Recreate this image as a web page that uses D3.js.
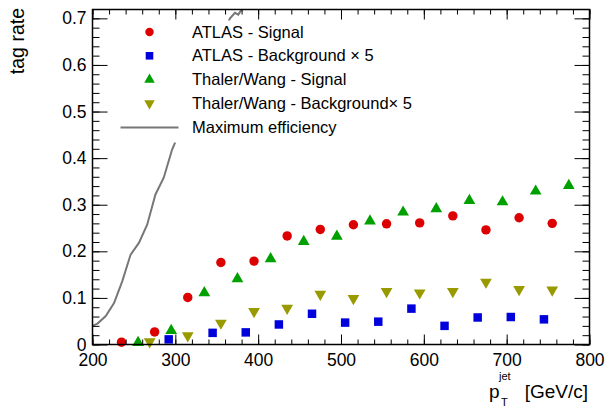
<!DOCTYPE html>
<html>
<head>
<meta charset="utf-8">
<script src="https://cdn.jsdelivr.net/npm/d3@7"></script>
<style>
  body { margin: 0; background: #fff; }
  svg { font-family: "Liberation Sans", Arial, sans-serif; }
</style>
</head>
<body>
<svg id="chart" width="608" height="407"></svg>
<script>
// pT bin positions (GeV/c) and tag rates
const atlasSigX = [235, 275, 315, 355, 395, 435, 475, 515, 555, 595, 635, 675, 715, 755];
const atlasSig = [0.005, 0.027, 0.101, 0.176, 0.179, 0.233, 0.247, 0.257, 0.259, 0.261, 0.276, 0.246, 0.272, 0.260];

const atlasBkgX = [292, 345, 385, 425, 465, 505, 545, 585, 625, 665, 705, 745];
const atlasBkg = [0.011, 0.025, 0.026, 0.043, 0.066, 0.047, 0.049, 0.077, 0.040, 0.058, 0.059, 0.054];

const twSigX = [255, 295, 335, 375, 415, 455, 495, 535, 575, 615, 655, 695, 735, 775];
const twSig = [0.004, 0.030, 0.111, 0.141, 0.184, 0.221, 0.232, 0.265, 0.284, 0.291, 0.309, 0.306, 0.329, 0.341];

const twBkgX = [269, 315, 355, 395, 435, 475, 515, 555, 595, 635, 675, 715, 755];
const twBkg = [0.006, 0.019, 0.046, 0.071, 0.078, 0.108, 0.099, 0.114, 0.111, 0.114, 0.134, 0.118, 0.117];

const maxEffX = [200, 206, 216, 226, 236, 246, 256, 266, 276, 286, 296, 306, 316, 326, 336, 346, 356, 366, 372, 376, 384];
const maxEff = [0.040, 0.045, 0.061, 0.089, 0.136, 0.193, 0.218, 0.257, 0.322, 0.358, 0.418, 0.46, 0.50, 0.54, 0.58, 0.62, 0.66, 0.700, 0.712, 0.708, 0.730];

const legendLabels = ["ATLAS - Signal", "ATLAS - Background \u00d7 5", "Thaler/Wang - Signal", "Thaler/Wang - Background\u00d7 5", "Maximum efficiency"];
const xTicks = [200, 300, 400, 500, 600, 700, 800];
const yTicks = [0, 0.1, 0.2, 0.3, 0.4, 0.5, 0.6, 0.7];

const margin = {left: 92.5, top: 9.5, right: 18.5, bottom: 62.5};
const W = 608, H = 407;
const w = W - margin.left - margin.right;
const h = H - margin.top - margin.bottom;

const svg = d3.select("#chart");
const g = svg.append("g").attr("transform", `translate(${margin.left},${margin.top})`);

const x = d3.scaleLinear().domain([200, 800]).range([0, w]);
const y = d3.scaleLinear().domain([0, 0.719]).range([h, 0]);

g.append("clipPath").attr("id", "clip")
  .append("rect").attr("width", w).attr("height", h);

// max efficiency curve (under the legend box)
g.append("path")
  .datum(maxEffX.map((d, i) => [d, maxEff[i]]))
  .attr("clip-path", "url(#clip)")
  .attr("fill", "none")
  .attr("stroke", "#777")
  .attr("stroke-width", 2)
  .attr("d", d3.line().x(d => x(d[0])).y(d => y(d[1])));

// legend box hides part of the curve
g.append("rect").attr("x", 10).attr("y", 11).attr("width", 330).attr("height", 122).attr("fill", "#fff");

const series = [
  {xs: atlasSigX, ys: atlasSig, sym: d3.symbolCircle, size: 70, color: "#dd0000", rot: 0},
  {xs: atlasBkgX, ys: atlasBkg, sym: d3.symbolSquare, size: 72, color: "#0000dd", rot: 0},
  {xs: twSigX, ys: twSig, sym: d3.symbolTriangle, size: 60, color: "#00a000", rot: 0},
  {xs: twBkgX, ys: twBkg, sym: d3.symbolTriangle, size: 60, color: "#999900", rot: 180}
];

series.forEach(s => {
  g.append("g").selectAll("path")
    .data(s.xs.map((d, i) => [d, s.ys[i]]))
    .join("path")
    .attr("transform", d => `translate(${x(d[0])},${y(d[1])}) rotate(${s.rot})`)
    .attr("d", d3.symbol().type(s.sym).size(s.size))
    .attr("fill", s.color);
});

// axes: ROOT style ticks on all four sides, pointing inside
const xMinor = d3.range(200, 801, 20);
const yMinor = d3.range(0, 0.7201, 0.02);

function noLabels(a) { return a.tickFormat("").tickSizeOuter(0); }

g.append("g").attr("transform", `translate(0,${h})`)
  .call(noLabels(d3.axisBottom(x).tickValues(xMinor).tickSize(-5)));
g.append("g").attr("transform", `translate(0,${h})`)
  .call(d3.axisBottom(x).tickValues(xTicks).tickSize(-10).tickSizeOuter(0).tickPadding(9).tickFormat(d3.format("d")));
g.append("g")
  .call(noLabels(d3.axisTop(x).tickValues(xMinor).tickSize(-5)));
g.append("g")
  .call(noLabels(d3.axisTop(x).tickValues(xTicks).tickSize(-10)));

g.append("g")
  .call(noLabels(d3.axisLeft(y).tickValues(yMinor).tickSize(-7)));
g.append("g")
  .call(d3.axisLeft(y).tickValues(yTicks).tickSize(-15).tickSizeOuter(0).tickPadding(6).tickFormat(d => d === 0 ? "0" : d3.format(".1f")(d)));
g.append("g").attr("transform", `translate(${w},0)`)
  .call(noLabels(d3.axisRight(y).tickValues(yMinor).tickSize(-7)));
g.append("g").attr("transform", `translate(${w},0)`)
  .call(noLabels(d3.axisRight(y).tickValues(yTicks).tickSize(-15)));

g.selectAll(".domain").remove();
g.selectAll(".tick line").attr("stroke", "#000");
g.selectAll(".tick text").attr("font-size", 17.5).attr("fill", "#000").attr("font-family", "Liberation Sans, Arial, sans-serif");

g.append("rect").attr("width", w).attr("height", h)
  .attr("fill", "none").attr("stroke", "#000").attr("stroke-width", 1.5);

// legend
const leg = g.append("g");
series.forEach((s, i) => {
  leg.append("path")
    .attr("transform", `translate(57,${22.5 + i * 23.8}) rotate(${s.rot})`)
    .attr("d", d3.symbol().type(s.sym).size(s.size * 0.8))
    .attr("fill", s.color);
});
leg.append("line").attr("x1", 28).attr("x2", 86).attr("y1", 118).attr("y2", 118)
  .attr("stroke", "#777").attr("stroke-width", 2);
legendLabels.forEach((t, i) => {
  leg.append("text").attr("x", 99.5).attr("y", 28 + i * 23.8)
    .attr("font-size", 16.5).attr("fill", "#000").text(t);
});

// axis titles
svg.append("text")
  .attr("transform", "translate(24,8) rotate(-90)")
  .attr("text-anchor", "end").attr("font-size", 19.5).attr("fill", "#000")
  .text("tag rate");

svg.append("text").attr("x", 489).attr("y", 398).attr("font-size", 19).attr("fill", "#000").text("p");
svg.append("text").attr("x", 499).attr("y", 380).attr("font-size", 11).attr("fill", "#000").text("jet");
svg.append("text").attr("x", 501).attr("y", 406).attr("font-size", 11).attr("fill", "#000").text("T");
svg.append("text").attr("x", 588).attr("y", 398).attr("text-anchor", "end")
  .attr("font-size", 19).attr("fill", "#000").text("[GeV/c]");
</script>
</body>
</html>
